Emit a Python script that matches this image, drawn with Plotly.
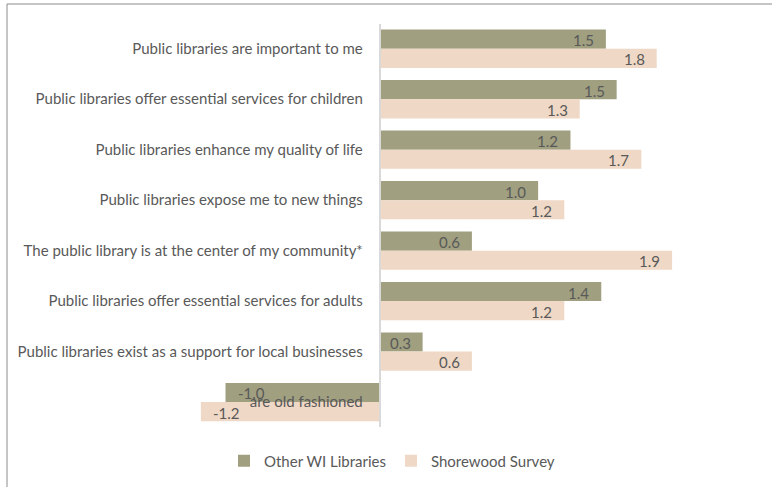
import plotly.graph_objects as go

categories = [
    "Public libraries are important to me",
    "Public libraries offer essential services for children",
    "Public libraries enhance my quality of life",
    "Public libraries expose me to new things",
    "The public library is at the center of my community*",
    "Public libraries offer essential services for adults",
    "Public libraries exist as a support for local businesses",
    "are old fashioned",
]
other_wi = [1.47, 1.54, 1.24, 1.03, 0.60, 1.44, 0.28, -1.00]
shorewood = [1.80, 1.30, 1.70, 1.20, 1.90, 1.20, 0.60, -1.16]
series_names = ["Other WI Libraries", "Shorewood Survey"]
colors = ["#A09F80", "#EFD8C5"]

W, H = 772, 487
ML, MR, MT, MB = 7, 0, 4, 0
PW, PH = W - ML - MR, H - MT - MB
zero_px = 379.5
px_per_unit = 154.0
xmin = -(zero_px - ML) / px_per_unit
xmax = (W - MR - zero_px) / px_per_unit

ytop_px, ybot_px = 23.5, 427.3
ydom = [1 - (ybot_px - MT) / PH, 1 - (ytop_px - MT) / PH]

font_fam = "Lato, 'Open Sans', sans-serif"
txt_col = "#595959"
fs = 15

fig = go.Figure()
for name, vals, col in zip(series_names, [other_wi, shorewood], colors):
    fig.add_trace(go.Bar(
        y=categories, x=vals, name=name, orientation="h",
        marker=dict(color=col, line=dict(width=0)),
        offsetgroup=name,
    ))

# data labels (inside end of each bar)
n = len(categories)
for si, vals in enumerate([other_wi, shorewood]):
    for ci, v in enumerate(vals):
        fig.add_annotation(
            x=v, y=ci + (-0.17 if si == 0 else 0.21), xref="x", yref="y",
            text=f"{v:.1f}", showarrow=False,
            xanchor="right" if v >= 0 else "left",
            xshift=-10 if v >= 0 else 10,
            font=dict(family=font_fam, size=fs, color=txt_col),
        )

fig.update_layout(
    width=W, height=H,
    margin=dict(l=ML, r=MR, t=MT, b=MB, pad=0),
    paper_bgcolor="white", plot_bgcolor="white",
    barmode="group", bargap=0.24, bargroupgap=0,
    font=dict(family=font_fam, size=fs, color=txt_col),
    xaxis=dict(range=[xmin, xmax], domain=[0, 1], showgrid=False, zeroline=False,
               showticklabels=False, showline=False, fixedrange=True),
    yaxis=dict(domain=ydom, type="category", categoryorder="array",
               categoryarray=categories, range=[n - 0.5, -0.5],
               anchor="free", position=(zero_px - ML) / PW,
               showline=True, linecolor="#D9D9D9", linewidth=1.5,
               showgrid=False, zeroline=False, ticks="",
               ticklabelstandoff=13,
               tickfont=dict(family=font_fam, size=fs, color=txt_col)),
    legend=dict(orientation="h", x=(392 - ML) / PW, xanchor="center",
                y=1 - (461 - MT) / PH, yanchor="middle",
                font=dict(family=font_fam, size=fs, color=txt_col),
                traceorder="normal", itemwidth=30, tracegroupgap=0),
    showlegend=True,
    shapes=[
        dict(type="line", xref="paper", yref="paper", x0=0, x1=1, y0=1, y1=1,
             line=dict(color="#8C8C8C", width=1)),
        dict(type="line", xref="paper", yref="paper", x0=0, x1=0, y0=0, y1=1,
             line=dict(color="#8C8C8C", width=1)),
    ],
)

fig.write_html("out.html")
